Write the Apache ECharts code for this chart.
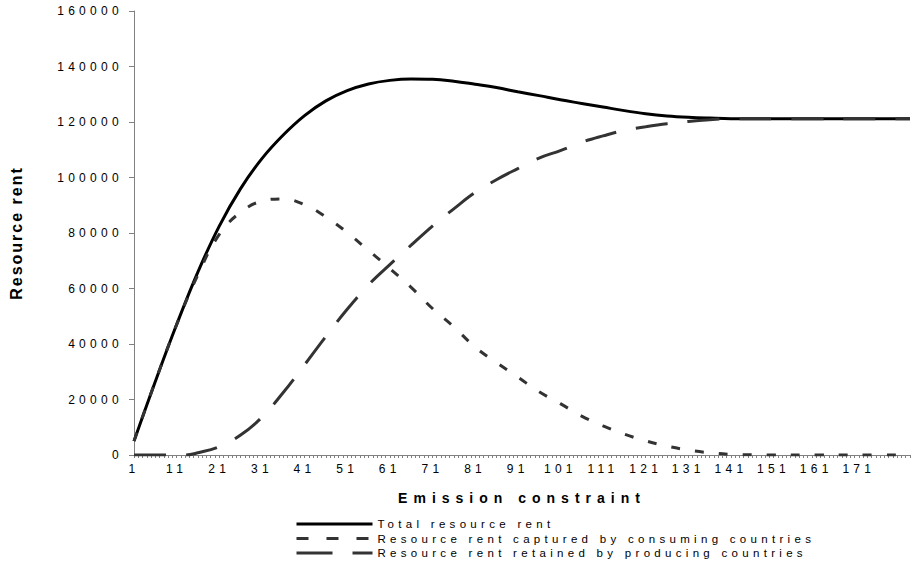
<!DOCTYPE html>
<html>
<head>
<meta charset="utf-8">
<script src="https://cdn.jsdelivr.net/npm/echarts@6/dist/echarts.min.js"></script>
<style>
  html, body { margin: 0; padding: 0; background: #fff; }
  #chart { width: 911px; height: 564px; }
  #chart svg text[style*="12px"] { letter-spacing: 4.3px; }
  #chart svg text[style*="11.5px"] { letter-spacing: 4.3px; }
  #chart svg text[style*="14px"] { letter-spacing: 6px; }
  #chart svg text[style*="16px"] { letter-spacing: 2px; }
</style>
</head>
<body>
<div id="chart"></div>
<script>
// Category axis: emission constraint 1..183
const categoryCount = 183;
const categories = [];
for (let i = 1; i <= categoryCount; i++) categories.push(String(i));

const totalX = [1, 6, 11, 16, 21, 26, 31, 36, 41, 46, 51, 56, 61, 66, 71, 76, 81, 86, 91, 96, 101, 106, 111, 116, 121, 126, 131, 136, 141, 151, 161, 171, 183];
const totalY = [5000, 26500, 47000, 66000, 82500, 96000, 106800, 115300, 122300, 127600, 131300, 133700, 135000, 135500, 135400, 134700, 133600, 132400, 130900, 129500, 128000, 126700, 125400, 124100, 123000, 122200, 121700, 121400, 121200, 121200, 121200, 121200, 121200];

const consumerX = [1, 6, 11, 16, 21, 26, 31, 36, 41, 46, 51, 56, 61, 66, 71, 76, 81, 86, 91, 96, 101, 106, 111, 116, 121, 126, 131, 136, 141, 146, 151, 161, 171, 183];
const consumerY = [5000, 26500, 47000, 65000, 79500, 87500, 91500, 92300, 90200, 85800, 80200, 73700, 67200, 60400, 52800, 46200, 38900, 33300, 28100, 22800, 18500, 14000, 10500, 7500, 5100, 3200, 1800, 800, 250, 80, 0, 0, 0, 0];

const producerX = [1, 6, 11, 13, 16, 21, 26, 31, 36, 41, 46, 51, 56, 61, 66, 71, 76, 81, 86, 91, 96, 101, 106, 111, 116, 121, 126, 131, 136, 141, 151, 161, 171, 183];
const producerY = [0, 0, 0, 0, 800, 3000, 7200, 13600, 22500, 32500, 42700, 52500, 61300, 68600, 75600, 82500, 88700, 94600, 99200, 103200, 107000, 109700, 112700, 115000, 117000, 118300, 119400, 120200, 120800, 121200, 121200, 121200, 121200, 121200];

const yTicks = { min: 0, max: 160000, interval: 20000 };

const seriesNames = [
  'Total resource rent',
  'Resource rent captured by consuming countries',
  'Resource rent retained by producing countries'
];

function pairs(xs, ys) {
  return xs.map((x, i) => [String(x), ys[i]]);
}

const chart = echarts.init(document.getElementById('chart'), null, { renderer: 'svg' });
chart.setOption({
  animation: false,
  backgroundColor: '#ffffff',
  textStyle: { fontFamily: 'Arial, "Liberation Sans", sans-serif' },
  grid: { left: 131, right: 1, top: 11, bottom: 109, containLabel: false },
  legend: {
    orient: 'vertical',
    left: 295,
    top: 518,
    padding: 0,
    itemWidth: 76,
    itemHeight: 12,
    itemGap: 2.5,
    itemStyle: { opacity: 0, color: 'rgba(0,0,0,0)', borderWidth: 0 },
    data: [
      { name: seriesNames[0], lineStyle: { color: '#000000', width: 3, type: 'solid' } },
      { name: seriesNames[1], lineStyle: { color: '#333333', width: 3, type: [12, 18] } },
      { name: seriesNames[2], lineStyle: { color: '#333333', width: 3, type: [36, 20] } }
    ],
    textStyle: { fontSize: 11.5, color: '#000', fontFamily: 'Arial, "Liberation Sans", sans-serif' }
  },
  xAxis: {
    type: 'category',
    data: categories,
    boundaryGap: false,
    name: 'Emission constraint',
    nameLocation: 'middle',
    nameGap: 36,
    nameTextStyle: { fontSize: 14, fontWeight: 'bold', color: '#000' },
    axisLine: { lineStyle: { color: '#808080', width: 1 } },
    axisTick: { show: true, interval: 0, length: 3, lineStyle: { color: '#808080' } },
    axisLabel: {
      interval: function (index) { return index % 10 === 0 && index < 180; },
      fontSize: 12, color: '#000', margin: 8
    },
    splitLine: { show: false }
  },
  yAxis: {
    type: 'value',
    min: yTicks.min,
    max: yTicks.max,
    interval: yTicks.interval,
    name: 'Resource rent',
    nameLocation: 'middle',
    nameGap: 110,
    nameTextStyle: { fontSize: 16, fontWeight: 'bold', color: '#000' },
    axisLine: { show: true, lineStyle: { color: '#808080', width: 1 } },
    axisTick: { show: true, length: 5, lineStyle: { color: '#808080' } },
    axisLabel: { fontSize: 12, color: '#000', margin: 11, formatter: v => String(v) },
    splitLine: { show: false }
  },
  series: [
    {
      name: seriesNames[0],
      type: 'line',
      data: pairs(totalX, totalY),
      smooth: 0.4,
      symbol: 'none',
      lineStyle: { color: '#000000', width: 3, type: 'solid' },
      itemStyle: { color: '#000000' },
      z: 2
    },
    {
      name: seriesNames[1],
      type: 'line',
      data: pairs(consumerX, consumerY),
      smooth: 0.4,
      symbol: 'none',
      lineStyle: { color: '#333333', width: 3, type: [9, 15] },
      itemStyle: { color: '#333333' },
      z: 3
    },
    {
      name: seriesNames[2],
      type: 'line',
      data: pairs(producerX, producerY),
      smooth: 0.4,
      symbol: 'none',
      lineStyle: { color: '#333333', width: 3, type: [32, 20] },
      itemStyle: { color: '#333333' },
      z: 4
    }
  ]
});
</script>
</body>
</html>
